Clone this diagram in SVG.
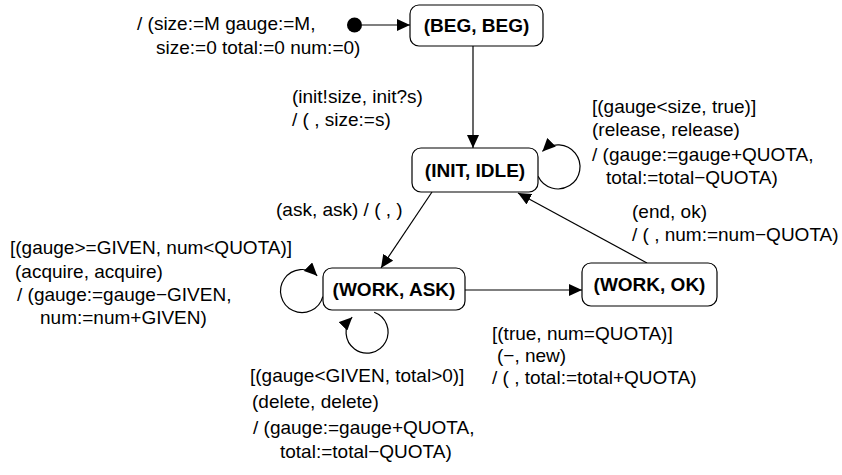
<svg xmlns="http://www.w3.org/2000/svg" width="842" height="475" viewBox="0 0 842 475">
<style>
.node rect{fill:#fff;stroke:#000;stroke-width:1.2}
.node text{font-family:"Liberation Sans",Arial,sans-serif;font-size:19px;font-weight:bold;text-anchor:middle;fill:#000}
.lbl{font-family:"Liberation Sans",Arial,sans-serif;font-size:19px;fill:#000}
.edge{fill:none;stroke:#000;stroke-width:1.2}
</style>
<defs>
<marker id="arr" markerUnits="userSpaceOnUse" markerWidth="14" markerHeight="12" refX="13" refY="6" orient="auto">
<path d="M0,0 L13,6 L0,12 z" fill="#000"/>
</marker>
</defs>
<g id="connectors">
<circle cx="354.5" cy="25" r="7.5" fill="#000"/>
<line class="edge" x1="362" y1="25" x2="410" y2="25" marker-end="url(#arr)"/>
<line class="edge" x1="473" y1="46" x2="473" y2="148" marker-end="url(#arr)"/>
<path class="edge" d="M538.1,176.3 A22,22 0 1 0 542.4,151.4" marker-end="url(#arr)"/>
<line class="edge" x1="432" y1="192" x2="381" y2="268" marker-end="url(#arr)"/>
<line class="edge" x1="647" y1="263" x2="518" y2="193" marker-end="url(#arr)"/>
<line class="edge" x1="465" y1="290" x2="582" y2="290" marker-end="url(#arr)"/>
<path class="edge" d="M322.8,296.6 A21.5,21.5 0 1 1 317.2,275.8" marker-end="url(#arr)"/>
<path class="edge" d="M374.2,312.3 A21,21 0 1 1 352.2,317.2" marker-end="url(#arr)"/>
</g>
<g id="n-beg" class="node"><rect x="410" y="5" width="133" height="41" rx="9"/><text x="476.5" y="32">(BEG, BEG)</text></g>
<g id="n-init" class="node"><rect x="412" y="148" width="126" height="44" rx="9"/><text x="475" y="177">(INIT, IDLE)</text></g>
<g id="n-ask" class="node"><rect x="323" y="268" width="142" height="42" rx="9"/><text x="394" y="296">(WORK, ASK)</text></g>
<g id="n-ok" class="node"><rect x="582" y="263" width="135" height="43" rx="9"/><text x="649.5" y="291">(WORK, OK)</text></g>
<g id="labels">
<text class="lbl" x="137" y="30">/ (size:=M gauge:=M,</text>
<text class="lbl" x="156" y="54">size:=0 total:=0 num:=0)</text>
<text class="lbl" x="292" y="103">(init!size, init?s)</text>
<text class="lbl" x="292" y="126">/ ( , size:=s)</text>
<text class="lbl" x="592" y="113">[(gauge&lt;size, true)]</text>
<text class="lbl" x="592" y="136">(release, release)</text>
<text class="lbl" x="592" y="161">/ (gauge:=gauge+QUOTA,</text>
<text class="lbl" x="606" y="184">total:=total&#8722;QUOTA)</text>
<text class="lbl" x="632" y="218">(end, ok)</text>
<text class="lbl" x="632" y="241">/ ( , num:=num&#8722;QUOTA)</text>
<text class="lbl" x="276" y="216">(ask, ask) / ( , )</text>
<text class="lbl" x="10" y="254">[(gauge&gt;=GIVEN, num&lt;QUOTA)]</text>
<text class="lbl" x="15" y="278">(acquire, acquire)</text>
<text class="lbl" x="17" y="301">/ (gauge:=gauge&#8722;GIVEN,</text>
<text class="lbl" x="40" y="324">num:=num+GIVEN)</text>
<text class="lbl" x="492" y="340">[(true, num=QUOTA)]</text>
<text class="lbl" x="497" y="362">(&#8722;, new)</text>
<text class="lbl" x="492" y="384">/ ( , total:=total+QUOTA)</text>
<text class="lbl" x="250" y="382">[(gauge&lt;GIVEN, total&gt;0)]</text>
<text class="lbl" x="252" y="408">(delete, delete)</text>
<text class="lbl" x="253" y="434">/ (gauge:=gauge+QUOTA,</text>
<text class="lbl" x="280" y="458">total:=total&#8722;QUOTA)</text>
</g>
</svg>
